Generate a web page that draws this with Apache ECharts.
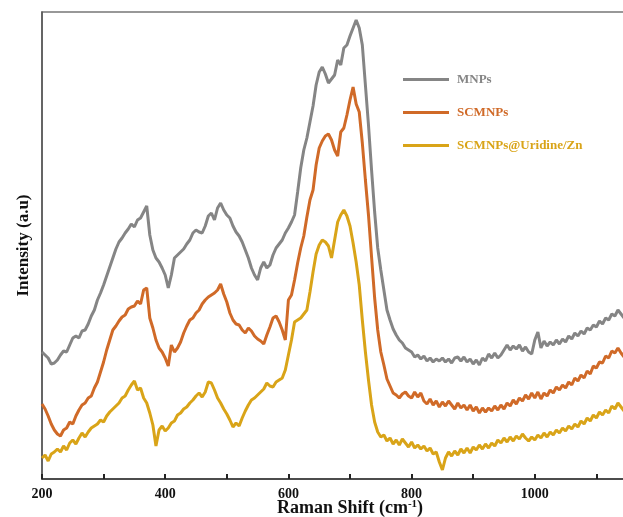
<!DOCTYPE html>
<html>
<head>
<meta charset="utf-8">
<title>Raman spectra</title>
<script src="https://cdn.jsdelivr.net/npm/echarts@6/dist/echarts.min.js"></script>
<style>
  html, body { margin: 0; padding: 0; background: #fff; }
  #chart { width: 623px; height: 517px; }
</style>
</head>
<body>
<div id="chart"></div>
<script>
// Raman shift (cm-1), sampled every 5
const shift = [
  200, 205, 210, 215, 220, 225, 230, 235, 240, 245, 250, 255, 260, 265, 270, 275, 280, 285, 290, 295,
  300, 305, 310, 315, 320, 325, 330, 335, 340, 345, 350, 355, 360, 365, 370, 375, 380, 385, 390, 395,
  400, 405, 410, 415, 420, 425, 430, 435, 440, 445, 450, 455, 460, 465, 470, 475, 480, 485, 490, 495,
  500, 505, 510, 515, 520, 525, 530, 535, 540, 545, 550, 555, 560, 565, 570, 575, 580, 585, 590, 595,
  600, 605, 610, 615, 620, 625, 630, 635, 640, 645, 650, 655, 660, 665, 670, 675, 680, 685, 690, 695,
  700, 705, 710, 715, 720, 725, 730, 735, 740, 745, 750, 755, 760, 765, 770, 775, 780, 785, 790, 795,
  800, 805, 810, 815, 820, 825, 830, 835, 840, 845, 850, 855, 860, 865, 870, 875, 880, 885, 890, 895,
  900, 905, 910, 915, 920, 925, 930, 935, 940, 945, 950, 955, 960, 965, 970, 975, 980, 985, 990, 995,
  1000, 1005, 1010, 1015, 1020, 1025, 1030, 1035, 1040, 1045, 1050, 1055, 1060, 1065, 1070, 1075, 1080, 1085, 1090, 1095,
  1100, 1105, 1110, 1115, 1120, 1125, 1130, 1135, 1140, 1145
];

// intensities (a.u.) (offset traces)
const mnps = [
  127, 124, 121, 115, 116, 119, 124, 128, 127, 134, 141, 143, 141, 148, 149, 155, 163, 169, 179, 186,
  194, 203, 212, 221, 230, 237, 241, 246, 250, 255, 252, 259, 261, 267, 273, 244, 229, 221, 217, 211,
  204, 191, 204, 221, 224, 227, 230, 235, 239, 246, 249, 247, 246, 253, 263, 266, 259, 271, 276, 269,
  264, 261, 253, 247, 243, 237, 229, 221, 211, 204, 199, 211, 217, 211, 214, 224, 231, 235, 239, 246,
  251, 257, 264, 287, 311, 329, 341, 357, 373, 394, 407, 412, 405, 396, 400, 404, 419, 414, 431, 434,
  443, 451, 459, 451, 434, 394, 354, 309, 267, 231, 209, 189, 169, 159, 150, 144, 139, 136, 131, 129,
  127, 122, 124, 120, 123, 118, 121, 117, 120, 118, 121, 117, 120, 116, 121, 122, 118, 122, 117, 120,
  115, 119, 114, 121, 118, 125, 121, 126, 121, 124, 129, 134, 129, 133, 130, 134, 128, 132, 127, 125,
  139, 147, 131, 138, 133, 137, 134, 139, 135, 140, 137, 143, 140, 146, 143, 148, 145, 151, 149, 154,
  152, 158, 155, 161, 159, 165, 163, 169, 165, 161
];
const scmnps = [
  75, 70, 63, 55, 49, 45, 43, 49, 51, 57, 55, 63, 69, 74, 76, 81, 83, 91, 97, 107,
  117, 129, 139, 149, 153, 158, 162, 164, 170, 172, 173, 178, 175, 189, 191, 161, 151, 139, 131, 127,
  121, 113, 134, 127, 131, 137, 146, 153, 159, 161, 166, 169, 175, 179, 182, 184, 186, 189, 195, 185,
  177, 166, 159, 155, 154, 149, 146, 151, 148, 143, 140, 138, 135, 144, 152, 161, 163, 157, 149, 139,
  179, 184, 199, 216, 231, 243, 262, 279, 289, 314, 331, 338, 343, 345, 339, 329, 323, 347, 351, 364,
  379, 392, 375, 367, 336, 299, 264, 222, 181, 149, 127, 114, 100, 93, 86, 84, 81, 85, 87, 83,
  81, 87, 82, 86, 78, 75, 80, 74, 78, 72, 77, 73, 78, 74, 70, 76, 71, 74, 69, 74,
  68, 72, 66, 71, 67, 71, 68, 73, 69, 74, 70, 76, 73, 79, 75, 81, 78, 84, 80, 86,
  81, 87, 80, 86, 83, 89, 86, 92, 89, 94, 91, 97, 94, 101, 98, 104, 101, 108, 105, 113,
  111, 117, 116, 123, 121, 128, 126, 131, 126, 122
];
const scmnpsUZn = [
  21, 24, 18, 25, 27, 30, 27, 33, 29, 36, 39, 35, 41, 46, 42, 47, 51, 53, 55, 59,
  57, 63, 67, 70, 73, 76, 81, 83, 89, 94, 98, 89, 91, 81, 76, 66, 54, 33, 49, 53,
  48, 51, 56, 58, 64, 66, 70, 72, 76, 79, 83, 86, 82, 87, 97, 96, 89, 81, 76, 70,
  65, 59, 52, 56, 53, 61, 68, 74, 79, 81, 84, 87, 90, 96, 93, 92, 97, 99, 101, 109,
  124, 139, 157, 159, 161, 165, 169, 187, 207, 225, 234, 239, 237, 233, 221, 239, 257, 264, 269, 263,
  253, 236, 217, 194, 159, 127, 99, 74, 57, 47, 42, 44, 38, 41, 35, 39, 34, 40, 36, 32,
  37, 31, 34, 30, 33, 28, 31, 25, 27, 17, 9, 21, 27, 23, 28, 24, 30, 26, 31, 26,
  32, 29, 34, 30, 35, 31, 36, 33, 39, 36, 41, 37, 42, 38, 43, 40, 45, 41, 38, 42,
  39, 44, 41, 46, 42, 47, 44, 49, 46, 51, 48, 53, 50, 55, 52, 58, 55, 61, 58, 64,
  61, 67, 64, 69, 66, 73, 70, 76, 72, 68
];

const names = ['MNPs', 'SCMNPs', 'SCMNPs@Uridine/Zn'];
const colors = ['#858585', '#D06A28', '#D9A418'];
const seriesValues = [mnps, scmnps, scmnpsUZn];

const chart = echarts.init(document.getElementById('chart'), null, { renderer: 'canvas' });

const serif = '"Liberation Serif", "DejaVu Serif", serif';

const option = {
  backgroundColor: '#fff',
  animation: false,
  grid: {
    left: 42,
    right: -35,
    top: 12,
    bottom: 38,
    outerBoundsMode: 'none',
    containLabel: false,
    show: true,
    borderColor: '#777',
    borderWidth: 1.5
  },
  legend: {
    orient: 'vertical',
    left: 398,
    top: 68,
    icon: 'rect',
    itemWidth: 46,
    itemHeight: 3,
    itemGap: 20,
    data: names.map((n, i) => ({
      name: n,
      textStyle: { color: colors[i] }
    })),
    textStyle: {
      fontFamily: serif,
      fontWeight: 'bold',
      fontSize: 13,
      padding: [0, 0, 0, 3]
    }
  },
  xAxis: {
    type: 'value',
    min: 200,
    max: 1200,
    interval: 100,
    name: 'Raman Shift (cm{sup|-1})',
    nameLocation: 'middle',
    nameGap: 20,
    nameMoveOverlap: false,
    nameTextStyle: {
      fontFamily: serif,
      fontWeight: 'bold',
      fontSize: 18,
      color: '#111',
      rich: {
        sup: { fontFamily: serif, fontWeight: 'bold', fontSize: 11, color: '#111', verticalAlign: 'top', padding: [0, 0, 8, 0] }
      }
    },
    axisLine: { show: true, lineStyle: { color: '#333', width: 1.5 } },
    axisTick: { show: true, inside: true, length: 5, lineStyle: { color: '#222', width: 2 } },
    axisLabel: {
      margin: 8,
      fontFamily: serif,
      fontWeight: 'bold',
      fontSize: 14,
      color: '#111',
      formatter: v => (v % 200 === 0 ? String(v) : '')
    },
    splitLine: { show: false }
  },
  yAxis: {
    type: 'value',
    min: 0,
    max: 467,
    name: 'Intensity (a.u)',
    nameLocation: 'middle',
    nameGap: 10,
    nameMoveOverlap: false,
    nameTextStyle: {
      fontFamily: serif,
      fontWeight: 'bold',
      fontSize: 17,
      color: '#111'
    },
    axisLine: { show: true, lineStyle: { color: '#555', width: 1.5 } },
    axisTick: { show: false },
    axisLabel: { show: false },
    splitLine: { show: false }
  },
  series: seriesValues.map((vals, i) => ({
    name: names[i],
    type: 'line',
    symbol: 'none',
    smooth: false,
    color: colors[i],
    lineStyle: { color: colors[i], width: 3 },
    data: shift.map((x, k) => [x, vals[k]])
  }))
};

chart.setOption(option);
</script>
</body>
</html>
